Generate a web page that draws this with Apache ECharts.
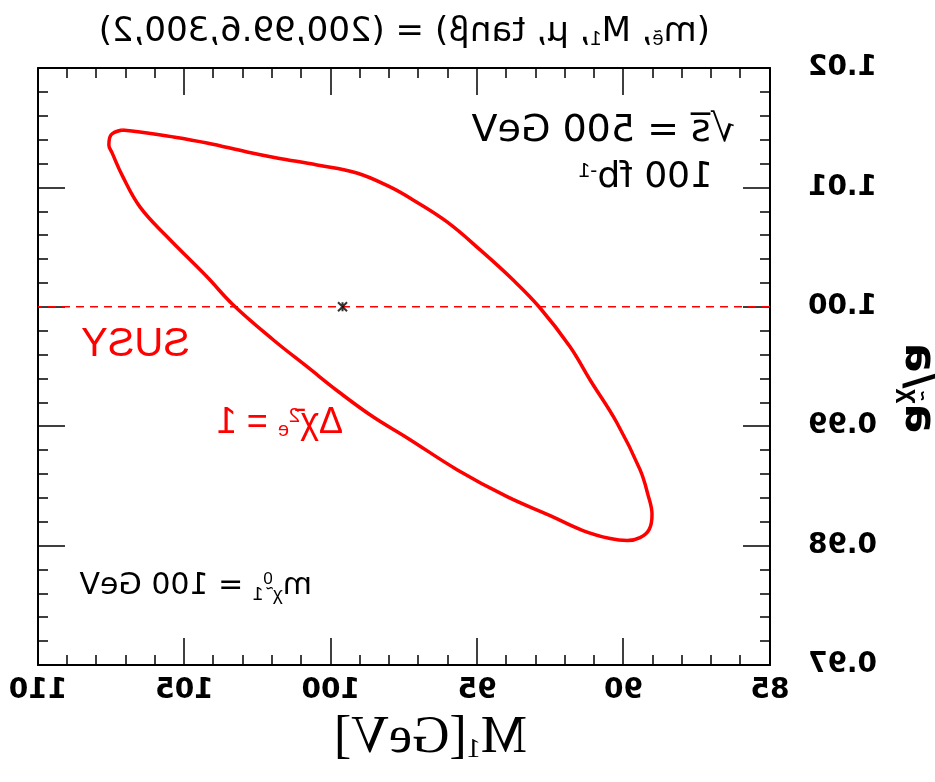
<!DOCTYPE html>
<html>
<head>
<meta charset="utf-8">
<script src="https://cdn.jsdelivr.net/npm/echarts@6/dist/echarts.min.js"></script>
<style>
html,body{margin:0;padding:0;background:#fff;}
#chart{width:935px;height:782px;transform:scaleX(-1);transform-origin:center;}
</style>
</head>
<body>
<div id="chart"></div>
<script>
// ---- data ----
const xTickLabels = ['85','90','95','100','105','110'];
const yTickLabels = ['0.97','0.98','0.99','1.00','1.01','1.02'];
const contourM1 = [107.13,106.52,105.39,104.23,102.86,101.84,100.47,99.11,97.98,97.19,96.03,94.90,93.78,92.86,91.83,91.15,90.23,89.44,89.17,89.03,89.13,89.44,89.88,90.46,91.39,92.51,93.98,95.69,97.40,98.56,99.69,100.81,101.97,103.34,104.23,105.59,106.52,107.10,107.47,107.58,107.51,107.13];
const contourRatio = [1.01481,1.01464,1.01423,1.01372,1.01297,1.01247,1.01188,1.01121,1.01004,1.00895,1.00711,1.00477,1.00226,0.99992,0.99665,0.99389,0.99029,0.98636,0.98427,0.98259,0.98134,0.98067,0.98042,0.98059,0.98126,0.98251,0.98410,0.98636,0.98904,0.99079,0.99280,0.99498,0.99724,1.00017,1.00251,1.00586,1.00837,1.01088,1.01289,1.01356,1.01439,1.01481];
const referenceLineM1 = [85, 110];
const referenceLineRatio = [1.00, 1.00];
const bestFitM1 = [99.6];
const bestFitRatio = [1.00];

const chart = echarts.init(document.getElementById('chart'), null, {renderer:'canvas'});
const labelFont = {color:'#000', fontFamily:'DejaVu Sans, sans-serif', fontSize:28, fontWeight:'bold'};
const tickCommon = {show:true, inside:true, length:27, lineStyle:{color:'#000', width:1.5}};
const minorCommon = {show:true, splitNumber:5, length:10, lineStyle:{color:'#000', width:1.5}};
const axisLineCommon = {show:true, lineStyle:{color:'#000', width:2}};

const xMin = Number(xTickLabels[0]), xMax = Number(xTickLabels[xTickLabels.length-1]);
const yMin = Number(yTickLabels[0]), yMax = Number(yTickLabels[yTickLabels.length-1]);

const option = {
  backgroundColor:'#fff',
  animation:false,
  grid:{left:165, right:38, top:68, bottom:117},
  xAxis:[
    {type:'value', position:'bottom', min:xMin, max:xMax, interval:5,
     axisLine:axisLineCommon, axisTick:tickCommon, minorTick:minorCommon,
     splitLine:{show:false}, minorSplitLine:{show:false},
     axisLabel:Object.assign({margin:12, formatter:v=>String(v)}, labelFont)},
    {type:'value', position:'top', min:xMin, max:xMax, interval:5,
     axisLine:axisLineCommon, axisTick:tickCommon, minorTick:minorCommon,
     splitLine:{show:false}, axisLabel:{show:false}}
  ],
  yAxis:[
    {type:'value', position:'left', min:yMin, max:yMax, interval:0.01,
     axisLine:axisLineCommon, axisTick:tickCommon, minorTick:minorCommon,
     splitLine:{show:false}, minorSplitLine:{show:false},
     axisLabel:Object.assign({margin:38, formatter:v=>v.toFixed(2)}, labelFont)},
    {type:'value', position:'right', min:yMin, max:yMax, interval:0.01,
     axisLine:axisLineCommon, axisTick:tickCommon, minorTick:minorCommon,
     splitLine:{show:false}, axisLabel:{show:false}}
  ],
  series:[
    {type:'line', data:referenceLineM1.map((x,i)=>[x, referenceLineRatio[i]]),
     showSymbol:false, symbol:'none', lineStyle:{color:'#ff0000', width:1.5, type:[8,6]}, z:2},
    {type:'line', data:contourM1.map((x,i)=>[x, contourRatio[i]]),
     showSymbol:false, symbol:'none', smooth:0.4, lineStyle:{color:'#ff0000', width:3.5}, z:3},
    {type:'scatter', data:bestFitM1.map((x,i)=>[x, bestFitRatio[i]]),
     symbol:'path://M0,0 L10,10 M10,0 L0,10 M5,0 L5,10', symbolSize:9,
     itemStyle:{color:'#000', borderColor:'#000', borderWidth:2}, z:4}
  ],
  graphic:[
    {type:'text', left:225, top:15, style:{
      text:'(m{sub|ẽ}, M{sub|1}, μ, tanβ) = (200,99.6,300,2)',
      font:'34px DejaVu Sans, sans-serif', fill:'#000',
      rich:{sub:{fontSize:20, fill:'#000', padding:[15,0,0,0]}}}},
    {type:'text', left:200, top:112, style:{
      text:'√s̅ = 500 GeV', font:'38px DejaVu Sans, sans-serif', fill:'#000'}},
    {type:'text', left:222, top:160, style:{
      text:'100 fb{sup|-1}', font:'36px DejaVu Sans, sans-serif', fill:'#000',
      rich:{sup:{fontSize:21, fill:'#000', padding:[0,0,14,0]}}}},
    {type:'text', left:745, top:325, style:{
      text:'SUSY', font:'40px Liberation Sans, Arial, sans-serif', fill:'#ff0000'}},
    {type:'text', left:592, top:405, style:{
      text:'Δχ̄{sup|2}{sub|e} = 1', font:'36px Liberation Sans, Arial, sans-serif', fill:'#ff0000',
      rich:{sup:{fontSize:20, fill:'#ff0000', padding:[0,0,14,0]}, sub:{fontSize:20, fill:'#ff0000', padding:[14,0,0,0]}}}},
    {type:'text', left:623, top:571, style:{
      text:'m{sub|χ̃}{sup|0}{sub|1} = 100 GeV', font:'30px DejaVu Sans, sans-serif', fill:'#000',
      rich:{sub:{fontSize:19, fill:'#000', padding:[16,0,0,0]}, sup:{fontSize:17, fill:'#000', padding:[0,0,14,0]}}}},
    {type:'text', left:408, top:712, style:{
      text:'M{sub|1}[GeV]', font:'52px Liberation Serif, Times New Roman, serif', fill:'#000',
      rich:{sub:{fontSize:28, fill:'#000', padding:[24,0,0,0], fontFamily:'Liberation Serif'}}}},
    {type:'text', x:18, y:388, rotation:Math.PI/2, style:{
      text:'a{sub|χ̃}/a', font:'bold 44px DejaVu Sans, sans-serif', fill:'#000',
      align:'center', verticalAlign:'middle',
      rich:{sub:{fontSize:26, fontWeight:'bold', fill:'#000', padding:[18,0,0,0]}}}}
  ]
};
chart.setOption(option);
</script>
</body>
</html>
